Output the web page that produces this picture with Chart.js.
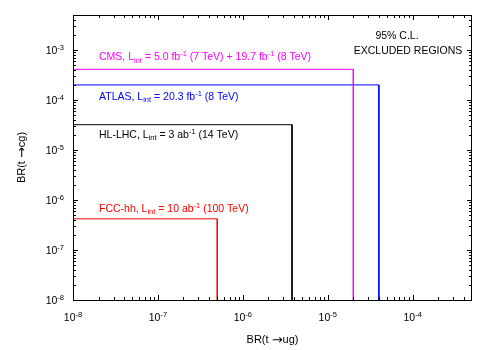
<!DOCTYPE html>
<html>
<head>
<meta charset="utf-8">
<script src="https://cdn.jsdelivr.net/npm/chart.js@4.4.0/dist/chart.umd.min.js"></script>
<style>
  html, body { margin: 0; padding: 0; background: #fff; }
  #wrap { width: 500px; height: 350px; }
</style>
</head>
<body>
<div id="wrap"><canvas id="chart" width="500" height="350"></canvas></div>
<script>
// 95% C.L. upper limits, one entry per experiment
const experiments = ['CMS', 'ATLAS', 'HL-LHC', 'FCC-hh'];
const limitUG = [2.0e-5, 4.0e-5, 3.8e-6, 5.0e-7];   // BR(t -> ug)
const limitCG = [4.1e-4, 2.0e-4, 3.2e-5, 4.2e-7];   // BR(t -> cg)
const lineColors = ['#ff00ff', '#0000ff', '#000000', '#ff0000'];

// label text pieces: [text, '' | 'sub' | 'sup' | 'arrow']
const labelParts = [
  [['CMS, L', ''], ['int', 'sub'], [' = 5.0 fb', ''], ['-1', 'sup'], [' (7 TeV) + 19.7 fb', ''], ['-1', 'sup'], [' (8 TeV)', '']],
  [['ATLAS, L', ''], ['int', 'sub'], [' = 20.3 fb', ''], ['-1', 'sup'], [' (8 TeV)', '']],
  [['HL-LHC, L', ''], ['int', 'sub'], [' = 3 ab', ''], ['-1', 'sup'], [' (14 TeV)', '']],
  [['FCC-hh, L', ''], ['int', 'sub'], [' = 10 ab', ''], ['-1', 'sup'], [' (100 TeV)', '']]
];
// label baseline offset from the horizontal line (px)
const labelOffsets = [-9, 15, 13, -7];

const xTitle = [['BR(t ', ''], ['\u2192', 'arrow'], ['ug)', '']];
const yTitle = [['BR(t ', ''], ['\u2192', 'arrow'], ['cg)', '']];

const xMin = 1e-8, xMax = 5e-4;
const yMin = 1e-8, yMax = 5e-3;
const xTicks = [1e-8, 1e-7, 1e-6, 1e-5, 1e-4];
const xTickExp = ['-8', '-7', '-6', '-5', '-4'];
const yTicks = [1e-8, 1e-7, 1e-6, 1e-5, 1e-4, 1e-3];
const yTickExp = ['-8', '-7', '-6', '-5', '-4', '-3'];

const FONT = '"Liberation Sans", Arial, sans-serif';

// each region: from the left edge along the cg limit, then down at the ug limit
const datasets = experiments.map((name, i) => ({
  label: name,
  data: [
    { x: xMin, y: limitCG[i] },
    { x: limitUG[i], y: limitCG[i] },
    { x: limitUG[i], y: yMin }
  ],
  showLine: true,
  borderColor: lineColors[i],
  borderWidth: 1,
  pointRadius: 0,
  fill: false,
  tension: 0
}));

function setFont(ctx, kind, size) {
  if (kind === 'sub' || kind === 'sup') ctx.font = '7.5px ' + FONT;
  else if (kind === 'arrow') ctx.font = (size + 2) + 'px "DejaVu Sans", sans-serif';
  else ctx.font = size + 'px ' + FONT;
}

function richWidth(ctx, parts, size) {
  let w = 0;
  parts.forEach(p => {
    setFont(ctx, p[1], size || 10.5);
    w += ctx.measureText(p[0]).width;
  });
  return w;
}

function drawRich(ctx, parts, x, y, color, size) {
  size = size || 10.5;
  ctx.fillStyle = color;
  ctx.textBaseline = 'alphabetic';
  ctx.textAlign = 'left';
  parts.forEach(p => {
    let dy = 0;
    if (p[1] === 'sub') dy = 2.5;
    else if (p[1] === 'sup') dy = -4;
    else if (p[1] === 'arrow') dy = 0.5;
    setFont(ctx, p[1], size);
    ctx.fillText(p[0], x, y + dy);
    x += ctx.measureText(p[0]).width;
  });
}

function minorValues(min, max) {
  const out = [];
  for (let e = Math.floor(Math.log10(min)); e <= Math.ceil(Math.log10(max)); e++) {
    for (let m = 2; m <= 9; m++) {
      const v = m * Math.pow(10, e);
      if (v > min && v < max) out.push(v);
    }
  }
  return out;
}

const decorations = {
  id: 'decorations',
  afterDraw(chart) {
    const ctx = chart.ctx;
    const a = chart.chartArea;
    const xs = chart.scales.x, ys = chart.scales.y;
    ctx.save();

    // frame
    ctx.strokeStyle = '#000';
    ctx.lineWidth = 1;
    ctx.strokeRect(a.left + 0.5, a.top + 0.5, a.right - a.left - 1, a.bottom - a.top);

    // ticks, inward on all sides
    ctx.beginPath();
    xTicks.forEach(v => {
      const px = Math.round(xs.getPixelForValue(v)) + 0.5;
      ctx.moveTo(px, a.bottom); ctx.lineTo(px, a.bottom - 5);
      ctx.moveTo(px, a.top); ctx.lineTo(px, a.top + 5);
    });
    minorValues(xMin, xMax).forEach(v => {
      const px = Math.round(xs.getPixelForValue(v)) + 0.5;
      ctx.moveTo(px, a.bottom); ctx.lineTo(px, a.bottom - 3);
      ctx.moveTo(px, a.top); ctx.lineTo(px, a.top + 3);
    });
    yTicks.forEach(v => {
      const py = Math.round(ys.getPixelForValue(v)) + 0.5;
      ctx.moveTo(a.left, py); ctx.lineTo(a.left + 5, py);
      ctx.moveTo(a.right, py); ctx.lineTo(a.right - 5, py);
    });
    minorValues(yMin, yMax).forEach(v => {
      const py = Math.round(ys.getPixelForValue(v)) + 0.5;
      ctx.moveTo(a.left, py); ctx.lineTo(a.left + 3, py);
      ctx.moveTo(a.right, py); ctx.lineTo(a.right - 3, py);
    });
    ctx.stroke();

    // tick labels
    xTicks.forEach((v, i) => {
      const parts = [['10', ''], [xTickExp[i], 'sup']];
      const w = richWidth(ctx, parts);
      drawRich(ctx, parts, xs.getPixelForValue(v) - w / 2, a.bottom + 21, '#000');
    });
    yTicks.forEach((v, i) => {
      const parts = [['10', ''], [yTickExp[i], 'sup']];
      const w = richWidth(ctx, parts);
      drawRich(ctx, parts, a.left - 9 - w, ys.getPixelForValue(v) + 4, '#000');
    });

    // axis titles
    const xw = richWidth(ctx, xTitle, 11);
    drawRich(ctx, xTitle, (a.left + a.right) / 2 - xw / 2, 343, '#000', 11);
    const yw = richWidth(ctx, yTitle, 11);
    ctx.save();
    ctx.translate(25, (a.top + a.bottom) / 2);
    ctx.rotate(-Math.PI / 2);
    drawRich(ctx, yTitle, -yw / 2, 0, '#000', 11);
    ctx.restore();

    // region labels
    experiments.forEach((name, i) => {
      const py = ys.getPixelForValue(limitCG[i]);
      drawRich(ctx, labelParts[i], 99, py + labelOffsets[i], lineColors[i]);
    });

    // C.L. note
    ctx.fillStyle = '#000';
    ctx.font = '10.5px ' + FONT;
    ctx.textAlign = 'center';
    ctx.fillText('95% C.L.', 397, 38.5);
    ctx.fillText('EXCLUDED REGIONS', 408, 54);

    ctx.restore();
  }
};

new Chart(document.getElementById('chart'), {
  type: 'scatter',
  data: { datasets: datasets },
  options: {
    responsive: false,
    animation: false,
    layout: { padding: { left: 73, right: 28, top: 15, bottom: 50 } },
    plugins: { legend: { display: false }, tooltip: { enabled: false } },
    scales: {
      x: {
        type: 'logarithmic', min: xMin, max: xMax,
        ticks: { display: false }, grid: { display: false }, border: { display: false },
        afterFit(s) { s.height = 0; }
      },
      y: {
        type: 'logarithmic', min: yMin, max: yMax,
        ticks: { display: false }, grid: { display: false }, border: { display: false },
        afterFit(s) { s.width = 0; }
      }
    }
  },
  plugins: [decorations]
});
</script>
</body>
</html>
